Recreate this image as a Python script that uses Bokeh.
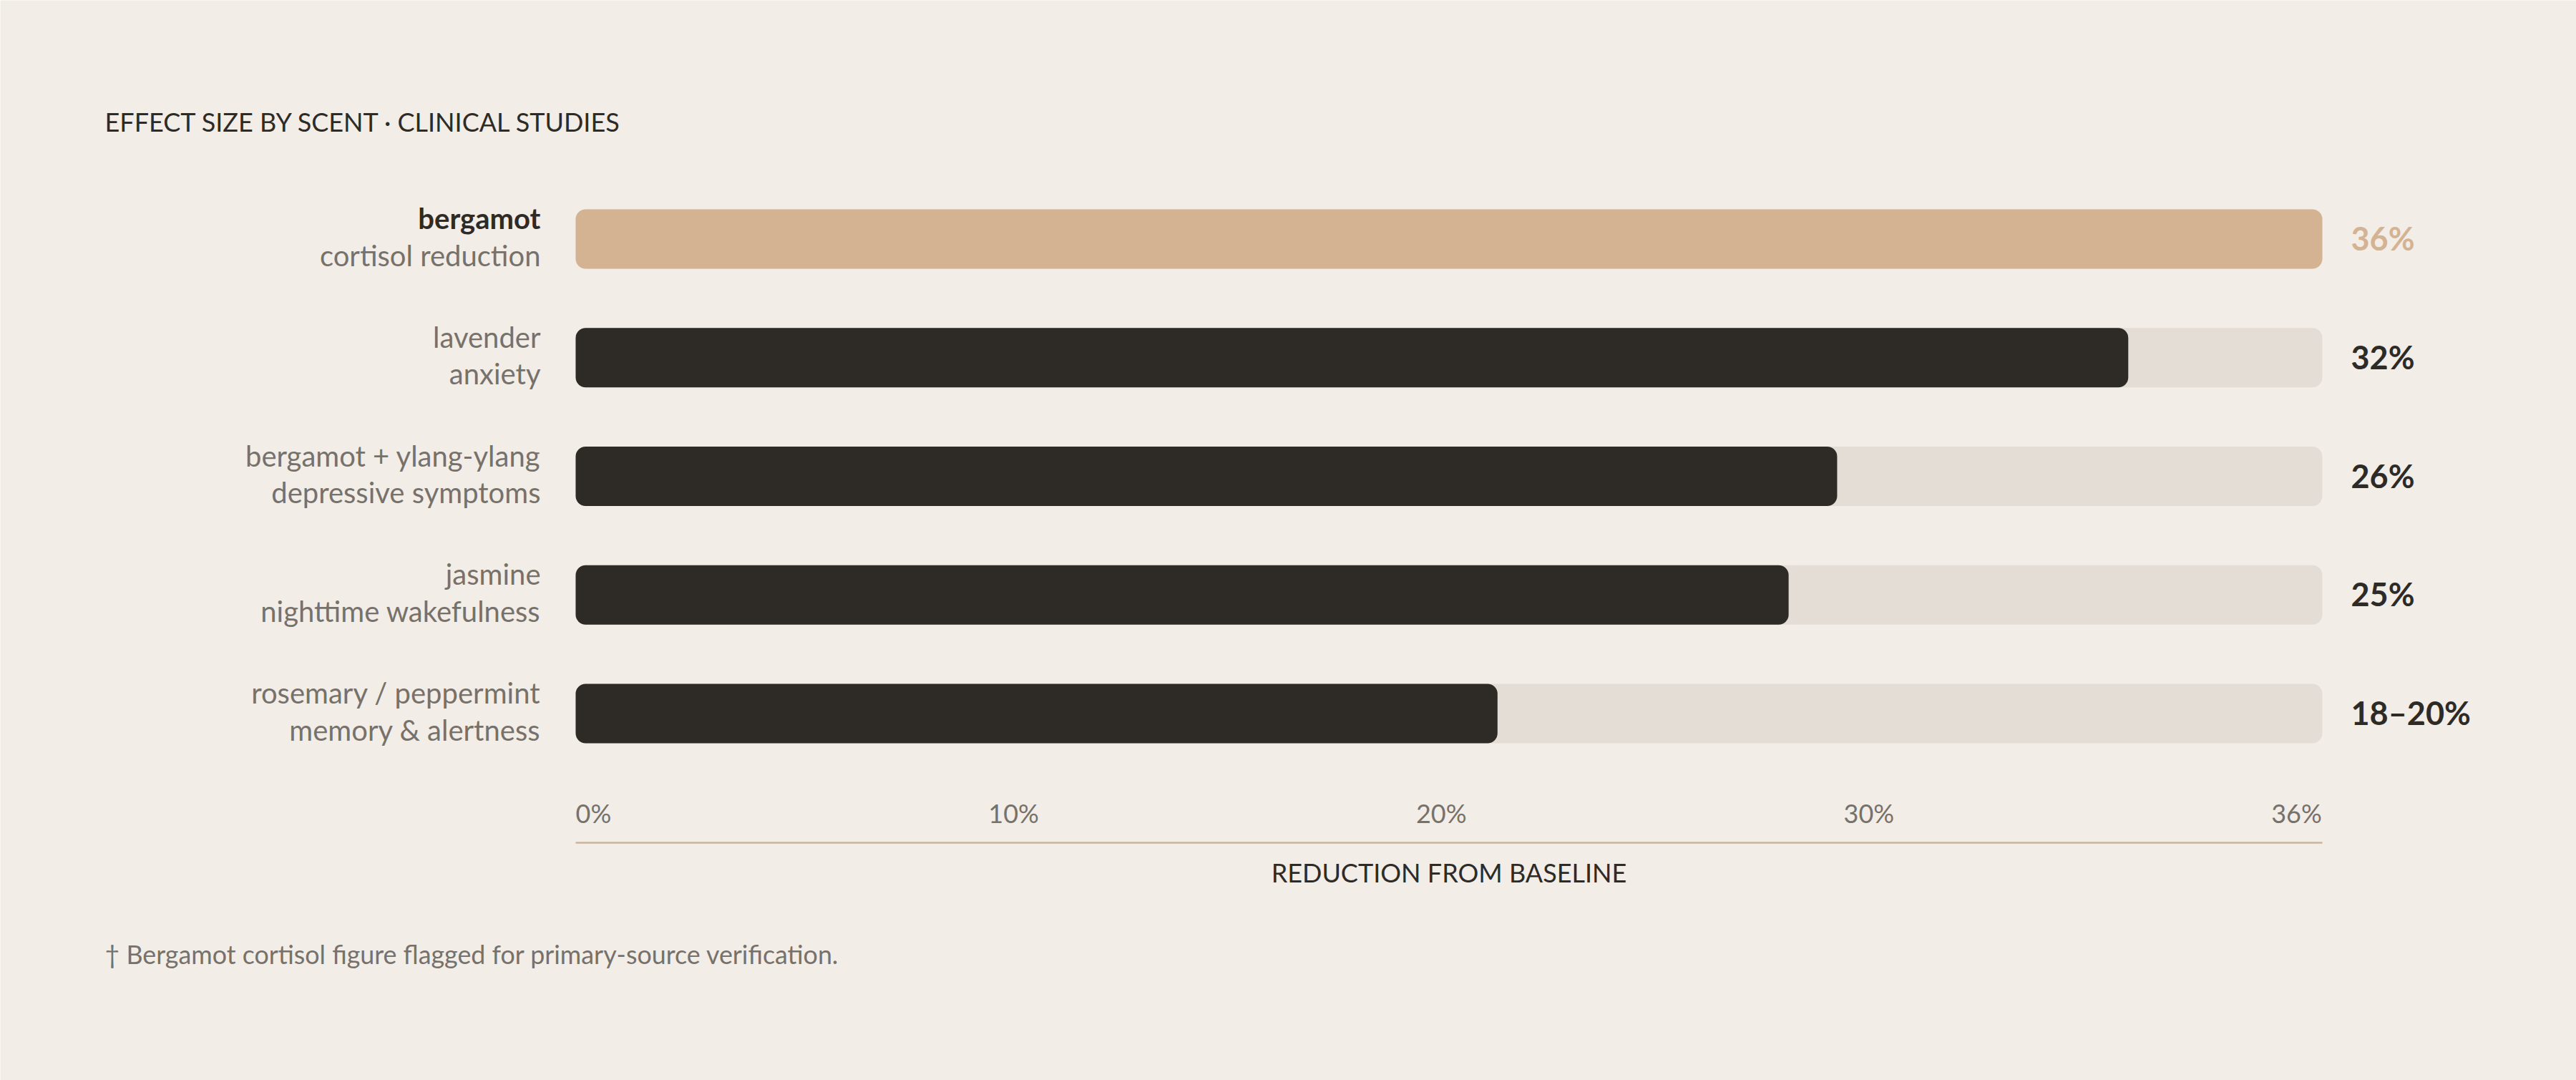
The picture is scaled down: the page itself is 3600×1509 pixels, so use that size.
import numpy as np
from bokeh.plotting import figure
from bokeh.models import ColumnDataSource, Range1d
from bokeh.core.properties import value
from bokeh.embed import file_html
from bokeh.resources import INLINE

# ---------------- data ----------------
scents = ["bergamot", "lavender", "bergamot + ylang-ylang", "jasmine", "rosemary / peppermint"]
outcomes = ["cortisol reduction", "anxiety", "depressive symptoms", "nighttime wakefulness", "memory & alertness"]
effect_low = [36, 32, 26, 25, 18]
effect_high = [36, 32, 26, 25, 20]
value_labels = ["36%", "32%", "26%", "25%", "18–20%"]
highlight = [True, False, False, False, False]
tick_labels = ["0%", "10%", "20%", "30%", "36%"]
axis_max = 36
title_text = "EFFECT SIZE BY SCENT · CLINICAL STUDIES"
axis_title = "REDUCTION FROM BASELINE"
footnote = "† Bergamot cortisol figure flagged for primary-source verification."

# ---------------- style ----------------
BG = "#f2ede7"
TAN = "#d4b393"
DARK = "#2e2b27"
TRACK = "#e4ddd6"
GRAY = "#77716b"
RULE = "#c8b59e"
FONT = value("Lato")

FS_LABEL, FS_VALUE, FS_TICK, FS_AXT, FS_TITLE, FS_NOTE = 40, 45, 36, 36, 36, 35.8

# ---------------- layout (page pixels) ----------------
W, H = 3600, 1509
X0_PX, X1_PX = 804, 3245          # where 0 and axis_max sit
ROW0_PX, PITCH = 333.5, 165.75    # first bar centre, row pitch
BAR_H = 83
s = (X1_PX - X0_PX) / axis_max


def dx(px):
    return (px - X0_PX) / s


def dy(px):
    return (px - ROW0_PX) / PITCH


def base(fs):
    # correction so that the drawn alphabetic baseline lands where wanted
    return -0.4 * fs


def label_width(t, fs):
    # approximate Lato advance widths (digits / percent sign)
    return fs * sum(0.82 if c == "%" else 0.58 for c in t)


n = len(scents)
rows = np.arange(n)
mid = [(lo + hi) / 2 for lo, hi in zip(effect_low, effect_high)]

src = ColumnDataSource(dict(
    y=rows,
    mid=mid,
    track=[axis_max] * n,
    bar_color=[TAN if h else DARK for h in highlight],
    val_color=[TAN if h else DARK for h in highlight],
    scent=scents,
    outcome=outcomes,
    scent_color=[DARK if h else GRAY for h in highlight],
    scent_style=["bold" if h else "normal" for h in highlight],
    vlabel=value_labels,
    y_l1=rows + (-13 + base(FS_LABEL)) / PITCH,
    y_l2=rows + (38.5 + base(FS_LABEL)) / PITCH,
    y_val=rows + (17 + base(FS_VALUE)) / PITCH,
))

p = figure(
    width=W, height=H,
    x_range=Range1d(-X0_PX / s, (W - X0_PX) / s),
    y_range=Range1d((H - ROW0_PX) / PITCH, -ROW0_PX / PITCH),
    output_backend="svg", toolbar_location=None,
    x_axis_location=None, y_axis_location=None,
    min_border=0, outline_line_color=None,
    background_fill_color=BG, border_fill_color=BG,
)
p.grid.visible = False

bh = BAR_H / PITCH
p.hbar(y="y", left=0, right="track", height=bh, source=src,
       fill_color=TRACK, line_color=None, border_radius=14)
p.hbar(y="y", left=0, right="mid", height=bh, source=src,
       fill_color="bar_color", line_color=None, border_radius=14)

# row labels
p.text(x=0, y="y_l1", text="scent", source=src, x_offset=-49,
       text_font=FONT, text_font_size=f"{FS_LABEL}px", text_align="right",
       text_baseline="alphabetic", text_color="scent_color",
       text_font_style="scent_style")
p.text(x=0, y="y_l2", text="outcome", source=src, x_offset=-49,
       text_font=FONT, text_font_size=f"{FS_LABEL}px", text_align="right",
       text_baseline="alphabetic", text_color=GRAY)

# value labels
p.text(x=axis_max, y="y_val", text="vlabel", source=src, x_offset=40,
       text_font=FONT, text_font_size=f"{FS_VALUE}px", text_font_style="bold",
       text_align="left", text_baseline="alphabetic", text_color="val_color")

# axis labels laid out "space-between" across the track
widths = [label_width(t, FS_TICK) for t in tick_labels]
track_px = X1_PX - X0_PX
gap = (track_px - sum(widths)) / (len(tick_labels) - 1)
lefts = []
acc = 0.0
for w in widths:
    lefts.append(acc)
    acc += w + gap
tick_x = [l / s for l in lefts]
last_row_px = ROW0_PX + (n - 1) * PITCH
p.text(x=tick_x, y=[dy(last_row_px + 153.5 + base(FS_TICK))] * len(tick_labels),
       text=tick_labels,
       text_font=FONT, text_font_size=f"{FS_TICK}px", text_align="left",
       text_baseline="alphabetic", text_color=GRAY)
yl = dy(last_row_px + 180.5)
p.segment(x0=[0], y0=[yl], x1=[axis_max], y1=[yl], line_color=RULE, line_width=2.5)
p.text(x=[axis_max / 2], y=[dy(last_row_px + 236 + base(FS_AXT))], text=[axis_title],
       text_font=FONT, text_font_size=f"{FS_AXT}px", text_align="center",
       text_baseline="alphabetic", text_color=DARK)

# title and footnote
p.text(x=[dx(146)], y=[dy(184 + base(FS_TITLE))], text=[title_text],
       text_font=FONT, text_font_size=f"{FS_TITLE}px", text_align="left",
       text_baseline="alphabetic", text_color=DARK)
p.text(x=[dx(146)], y=[dy(1347 + base(FS_NOTE))], text=[footnote],
       text_font=FONT, text_font_size=f"{FS_NOTE}px", text_align="left",
       text_baseline="alphabetic", text_color=GRAY)

open("out.html", "w").write(file_html(p, INLINE))
